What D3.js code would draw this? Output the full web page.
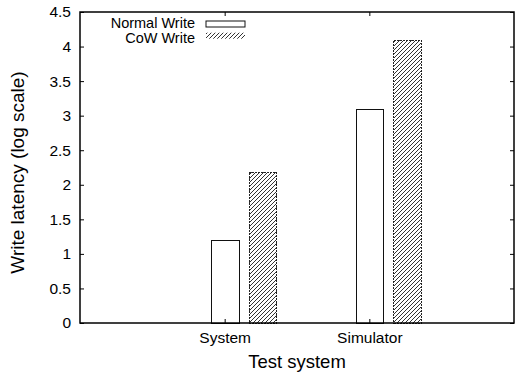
<!DOCTYPE html>
<html>
<head>
<meta charset="utf-8">
<script src="https://cdn.jsdelivr.net/npm/d3@7"></script>
<style>
    body { margin: 0; background: #fff; }
    svg { display: block; font-family: "Liberation Sans", Arial, sans-serif; }
</style>
</head>
<body>
<div id="chart"></div>
<script>
// data
var categories = ["System", "Simulator"];
var seriesNames = ["Normal Write", "CoW Write"];
var normalWrite = [1.19, 3.09];
var cowWrite = [2.18, 4.09];
var yTicks = [0, 0.5, 1, 1.5, 2, 2.5, 3, 3.5, 4, 4.5];

var width = 515, height = 375;
var margin = {top: 12, right: 1, bottom: 52, left: 80};
var plotW = width - margin.left - margin.right,
    plotH = height - margin.top - margin.bottom;

var svg = d3.select("#chart").append("svg")
    .attr("width", width)
    .attr("height", height);

// hatch pattern for the CoW bars
var defs = svg.append("defs");
var pat = defs.append("pattern")
    .attr("id", "hatch")
    .attr("patternUnits", "userSpaceOnUse")
    .attr("width", 4)
    .attr("height", 4);
pat.append("rect").attr("width", 4).attr("height", 4).attr("fill", "#fff");
pat.append("path")
    .attr("d", "M-1,5 L5,-1 M-1,1 L1,-1 M3,5 L5,3")
    .attr("stroke", "#333")
    .attr("stroke-width", 1);

var g = svg.append("g")
    .attr("transform", "translate(" + margin.left + "," + margin.top + ")");

var x = d3.scaleLinear().domain([-1, 2]).range([0, plotW]);
var y = d3.scaleLinear().domain([0, 4.5]).range([plotH, 0]);

var offsets = [0.005, 0.265];
var barW = 0.19;
var fills = ["#fff", "url(#hatch)"];
var values = [normalWrite, cowWrite];

var data = [];
categories.forEach(function (c, i) {
    values.forEach(function (s, j) {
        data.push({cat: i, series: j, value: s[i]});
    });
});

// bars
g.selectAll(".bar")
    .data(data)
    .enter().append("rect")
    .attr("class", "bar")
    .attr("x", function (d) { return x(d.cat + offsets[d.series] - barW / 2); })
    .attr("y", function (d) { return y(d.value); })
    .attr("width", x(barW) - x(0))
    .attr("height", function (d) { return plotH - y(d.value); })
    .attr("fill", function (d) { return fills[d.series]; })
    .attr("stroke", function (d) { return d.series ? "#222" : "#111"; })
    .attr("stroke-width", 1)
    .attr("stroke-dasharray", function (d) { return d.series ? "2,1" : null; })
    .attr("shape-rendering", "crispEdges");

// y axis left, ticks inward
var yLeft = g.append("g")
    .call(d3.axisLeft(y).tickValues(yTicks).tickSize(-4).tickPadding(9)
        .tickFormat(function (d) { return d; }));
yLeft.select(".domain").remove();
yLeft.selectAll("text").attr("font-size", 15.5).attr("fill", "#000")
    .attr("font-family", "Liberation Sans, Arial, sans-serif");

var yRight = g.append("g")
    .attr("transform", "translate(" + plotW + ",0)")
    .call(d3.axisRight(y).tickValues(yTicks).tickSize(-4).tickFormat(""));
yRight.select(".domain").remove();

// x axis, category ticks top and bottom
var xBottom = g.append("g")
    .attr("transform", "translate(0," + plotH + ")")
    .call(d3.axisBottom(x).tickValues([0, 1]).tickSize(-4).tickPadding(9)
        .tickFormat(function (d) { return categories[d]; }));
xBottom.select(".domain").remove();
xBottom.selectAll("text").attr("font-size", 15.5).attr("fill", "#000")
    .attr("font-family", "Liberation Sans, Arial, sans-serif");

var xTop = g.append("g")
    .call(d3.axisTop(x).tickValues([0, 1]).tickSize(-4).tickFormat(""));
xTop.select(".domain").remove();

g.selectAll(".tick line").attr("stroke", "#000");

// frame
g.append("rect")
    .attr("width", plotW)
    .attr("height", plotH)
    .attr("fill", "none")
    .attr("stroke", "#000")
    .attr("stroke-width", 1.5);

// legend
var legend = g.append("g");
seriesNames.forEach(function (name, j) {
    legend.append("text")
        .attr("x", 115)
        .attr("y", 15.5 + j * 15)
        .attr("text-anchor", "end")
        .attr("font-size", 14.5)
        .text(name);
    legend.append("rect")
        .attr("x", 126)
        .attr("y", 9 + j * 11.7)
        .attr("width", 39)
        .attr("height", 6)
        .attr("fill", fills[j])
        .attr("stroke", j ? "none" : "#111")
        .attr("stroke-width", 1);
});

// axis titles
svg.append("text")
    .attr("x", margin.left + plotW / 2)
    .attr("y", 368)
    .attr("text-anchor", "middle")
    .attr("font-size", 18.5)
    .text("Test system");

svg.append("text")
    .attr("transform", "translate(24," + (margin.top + plotH / 2 + 5) + ") rotate(-90)")
    .attr("text-anchor", "middle")
    .attr("font-size", 19)
    .text("Write latency (log scale)");
</script>
</body>
</html>
